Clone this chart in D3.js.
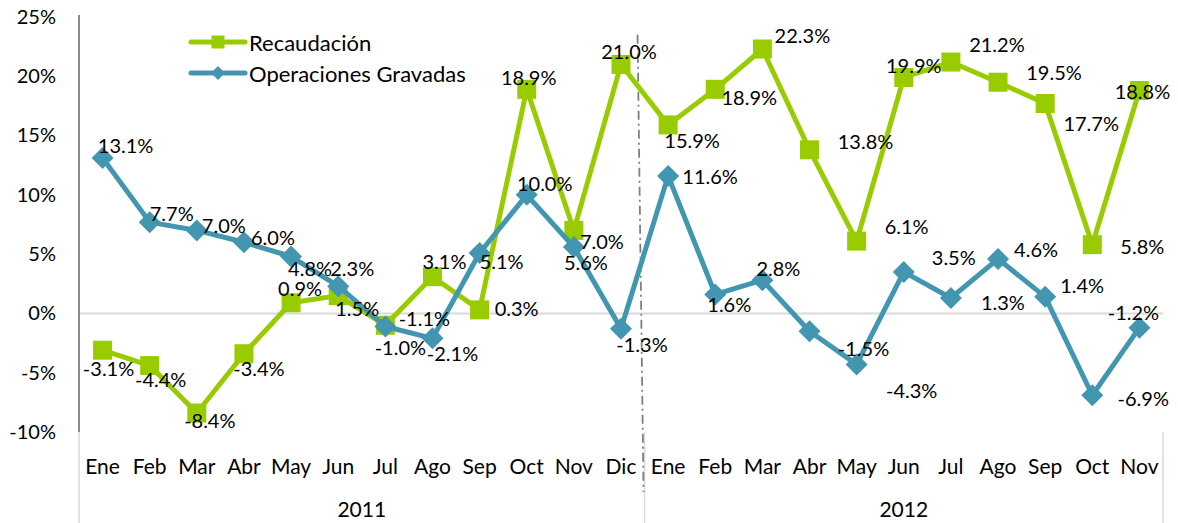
<!DOCTYPE html>
<html>
<head>
<meta charset="utf-8">
<script src="https://cdn.jsdelivr.net/npm/d3@7"></script>
<style>
  html, body { margin: 0; padding: 0; background: #fff; }
  svg { display: block; font-family: Lato, "Open Sans", sans-serif; }
</style>
</head>
<body>
<svg id="chart" width="1178" height="523"></svg>
<script>
// ---- data ----
const years = ["2011", "2012"];
const months2011 = ["Ene","Feb","Mar","Abr","May","Jun","Jul","Ago","Sep","Oct","Nov","Dic"];
const months2012 = ["Ene","Feb","Mar","Abr","May","Jun","Jul","Ago","Sep","Oct","Nov"];
const seriesNames = ["Recaudación", "Operaciones Gravadas"];
const recaudacion = [-3.1,-4.4,-8.4,-3.4,0.9,1.5,-1.0,3.1,0.3,18.9,7.0,21.0,
                     15.9,18.9,22.3,13.8,6.1,19.9,21.2,19.5,17.7,5.8,18.8];
const operaciones = [13.1,7.7,7.0,6.0,4.8,2.3,-1.1,-2.1,5.1,10.0,5.6,-1.3,
                     11.6,1.6,2.8,-1.5,-4.3,3.5,1.3,4.6,1.4,-6.9,-1.2];
const yTicks = [-10,-5,0,5,10,15,20,25];

// ---- label placement (layout, px offsets of label centre from point) ----
const recLabelOffsets = [[6,18],[11,13],[13,7],[15,14],[9,-15],[19,12],[15,22],[12,-16],[37,-2],[2,-12],[28,11],[8,-13],
                         [24,15],[34,8],[40,-14],[56,-9],[50,-15],[10,-12],[46,-18],[56,-10],[46,19],[50,1],[3,0]];
const opeLabelOffsets = [[23,-13],[22,-9],[27,-5],[29,-5],[19,11],[14,-18],[39,-8],[20,15],[22,8],[18,-12],[12,15],[21,15],
                         [42,0],[14,10],[16,-12],[54,17],[55,26],[50,-15],[52,4],[38,-10],[37,-12],[51,3],[-6,-16]];

// ---- setup ----
const green = "#99cc00", blue = "#4296b0";
const svg = d3.select("#chart");
const plotLeft = 79, plotRight = 1163, plotTop = 17, plotBottom = 432;

const cats = [
  ...months2011.map(m => ({year: years[0], month: m, key: years[0] + "-" + m})),
  ...months2012.map(m => ({year: years[1], month: m, key: years[1] + "-" + m}))
];
const x = d3.scalePoint().domain(cats.map(c => c.key)).range([plotLeft, plotRight]).padding(0.5);
const y = d3.scaleLinear().domain([-10, 25]).range([plotBottom, plotTop]);
const step = x.step();

// zero line
svg.append("line")
  .attr("x1", plotLeft).attr("x2", plotRight).attr("y1", y(0)).attr("y2", y(0))
  .attr("stroke", "#d9d9d9").attr("stroke-width", 2);

// y axis
const yAxis = svg.append("g").attr("transform", `translate(${plotLeft},0)`)
  .call(d3.axisLeft(y).tickValues(yTicks).tickSize(0).tickPadding(23).tickFormat(d => d + "%"));
yAxis.select(".domain").remove();
yAxis.selectAll("text").attr("font-size", 20).attr("font-family", "Lato, sans-serif").attr("fill", "#000");
svg.append("line")
  .attr("x1", plotLeft).attr("x2", plotLeft).attr("y1", plotTop - 2).attr("y2", plotBottom)
  .attr("stroke", "#8c8c8c").attr("stroke-width", 2);

// category separators
const sepX = [plotLeft, x(years[0] + "-Dic") + step / 2, plotRight];
svg.selectAll("line.sep").data(sepX).join("line").attr("class", "sep")
  .attr("x1", d => d).attr("x2", d => d).attr("y1", plotBottom).attr("y2", 523)
  .attr("stroke", "#d9d9d9").attr("stroke-width", 1.5);

// month labels
svg.selectAll("text.cat").data(cats).join("text").attr("class", "cat")
  .attr("x", d => x(d.key)).attr("y", 465)
  .attr("text-anchor", "middle").attr("dominant-baseline", "central")
  .attr("font-size", 21).text(d => d.month);

// year labels
const yearSpans = [[sepX[0], sepX[1]], [sepX[1], sepX[2]]];
svg.selectAll("text.year").data(years).join("text").attr("class", "year")
  .attr("x", (d, i) => (yearSpans[i][0] + yearSpans[i][1]) / 2).attr("y", 508)
  .attr("text-anchor", "middle").attr("dominant-baseline", "central")
  .attr("font-size", 21).text(d => d);

// dash-dot year divider
svg.append("line")
  .attr("x1", sepX[1] - 7).attr("y1", y(23.5))
  .attr("x2", sepX[1] - 1).attr("y2", 492)
  .attr("stroke", "#7f7f7f").attr("stroke-width", 1.8)
  .attr("stroke-dasharray", "9,4,2,4");

// series
const line = d3.line().x(d => x(d.key)).y(d => y(d.v));
const recData = cats.map((c, i) => ({key: c.key, v: recaudacion[i], off: recLabelOffsets[i]}));
const opeData = cats.map((c, i) => ({key: c.key, v: operaciones[i], off: opeLabelOffsets[i]}));

svg.append("path").datum(recData).attr("d", line)
  .attr("fill", "none").attr("stroke", green).attr("stroke-width", 5).attr("stroke-linejoin", "round");
const sq = 19;
svg.selectAll("rect.rec").data(recData).join("rect").attr("class", "rec")
  .attr("x", d => x(d.key) - sq / 2).attr("y", d => y(d.v) - sq / 2)
  .attr("width", sq).attr("height", sq).attr("fill", green);

svg.append("path").datum(opeData).attr("d", line)
  .attr("fill", "none").attr("stroke", blue).attr("stroke-width", 5).attr("stroke-linejoin", "round");
const dm = 11;
svg.selectAll("path.ope").data(opeData).join("path").attr("class", "ope")
  .attr("d", d => {
    const cx = x(d.key), cy = y(d.v);
    return `M${cx},${cy - dm}L${cx + dm},${cy}L${cx},${cy + dm}L${cx - dm},${cy}Z`;
  })
  .attr("fill", blue);

// data labels
const fmt = v => v.toFixed(1) + "%";
[recData, opeData].forEach((data, si) => {
  svg.selectAll("text.lbl" + si).data(data).join("text").attr("class", "lbl" + si)
    .attr("x", d => x(d.key) + d.off[0]).attr("y", d => y(d.v) + d.off[1])
    .attr("text-anchor", "middle").attr("dominant-baseline", "central")
    .attr("font-size", 20).attr("fill", "#000").text(d => fmt(d.v));
});

// legend
const legend = svg.append("g");
const legY = [42, 73];
seriesNames.forEach((name, i) => {
  const g = legend.append("g").attr("transform", `translate(0,${legY[i]})`);
  const col = i === 0 ? green : blue;
  g.append("line").attr("x1", 191).attr("x2", 245).attr("y1", 0).attr("y2", 0)
    .attr("stroke", col).attr("stroke-width", 5).attr("stroke-linecap", "round");
  if (i === 0) {
    g.append("rect").attr("x", 218 - 6.5).attr("y", -6.5).attr("width", 13).attr("height", 13).attr("fill", col);
  } else {
    g.append("path").attr("d", "M218,-7L225,0L218,7L211,0Z").attr("fill", col);
  }
  g.append("text").attr("x", 249).attr("y", 0).attr("dominant-baseline", "central")
    .attr("font-size", 22).text(name);
});
</script>
</body>
</html>
